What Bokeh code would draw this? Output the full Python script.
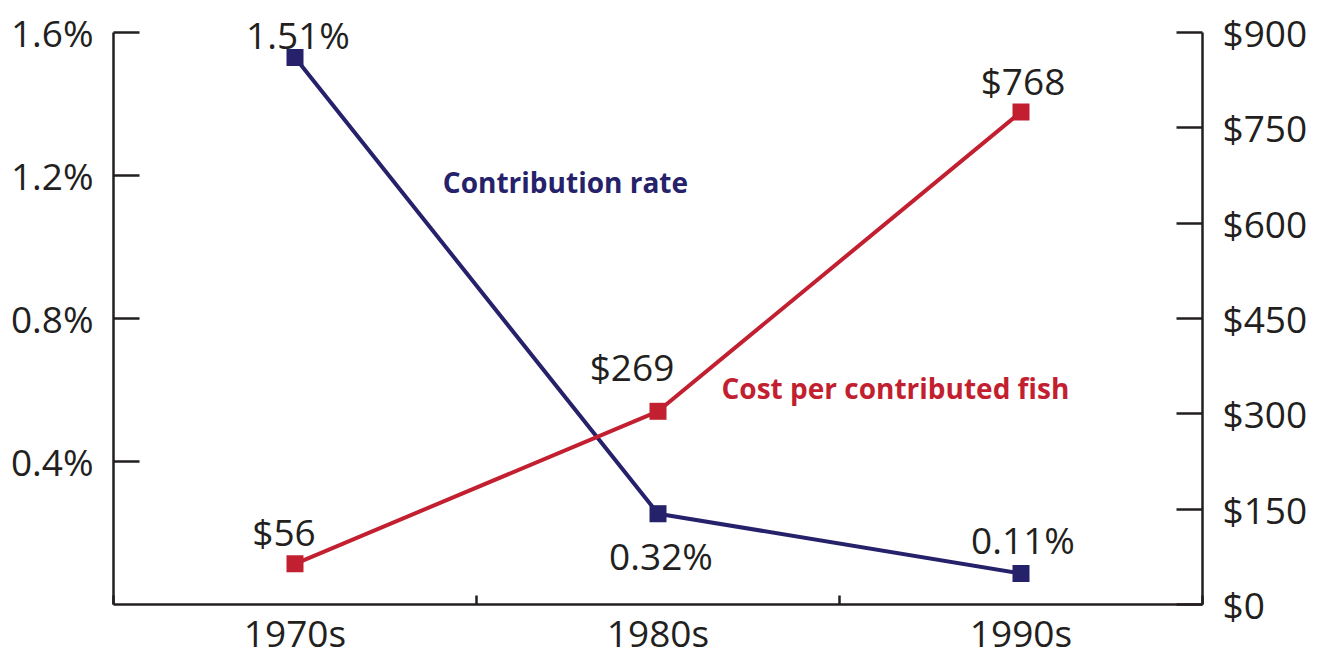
from bokeh.plotting import figure
from bokeh.models import (Range1d, LinearAxis, FixedTicker, PrintfTickFormatter,
                          ColumnDataSource, Label, LabelSet)
from bokeh.core.properties import value
from bokeh.embed import file_html
from bokeh.resources import INLINE

# ---- data ----
decades = ["1970s", "1980s", "1990s"]
rate_plotted = [1.53, 0.254, 0.087]          # contribution rate (%), as drawn
rate_labels = ["1.51%", "0.32%", "0.11%"]
cost_plotted = [64, 304, 775]                 # cost per contributed fish ($), as drawn
cost_labels = ["$56", "$269", "$768"]
rate_ticks = [0.4, 0.8, 1.2, 1.6]
cost_ticks = [0, 150, 300, 450, 600, 750, 900]

NAVY = "#25216A"
RED = "#C21F30"
INK = "#231F20"
FONT = "Open Sans"

xc = [i + 0.5 for i in range(len(decades))]
bounds = list(range(len(decades) + 1))

# frame spans a little above the top tick so the top value label is not clipped;
# the axis lines are bounded to the tick range
TOP, BOTTOM, AXIS_TOP = 2, 604, 32
head = (BOTTOM - TOP) / (BOTTOM - AXIS_TOP)
rate_max, cost_max = rate_ticks[-1], cost_ticks[-1]

p = figure(width=1320, height=660, output_backend="svg", toolbar_location=None,
           x_range=Range1d(0, len(decades)), y_range=Range1d(0, rate_max * head),
           min_border_left=113, min_border_right=118, min_border_top=TOP,
           min_border_bottom=660 - BOTTOM)
p.extra_y_ranges = {"cost": Range1d(0, cost_max * head)}
p.outline_line_color = None
p.xgrid.visible = False
p.ygrid.visible = False
p.xaxis.visible = False
p.yaxis.visible = False


def style_axis(ax):
    ax.axis_line_color = INK
    ax.axis_line_width = 2.5
    ax.major_tick_line_color = INK
    ax.major_tick_line_width = 2.5
    ax.minor_tick_line_color = INK
    ax.minor_tick_line_width = 2.5
    ax.major_label_text_font = FONT
    ax.major_label_text_font_size = "37px"
    ax.major_label_text_color = INK


# left axis
la = LinearAxis(ticker=FixedTicker(ticks=rate_ticks), bounds=(0, rate_max),
                formatter=PrintfTickFormatter(format="%.1f%%"))
style_axis(la)
la.major_tick_in = 26
la.major_tick_out = 0
la.minor_tick_in = 0
la.minor_tick_out = 0
la.major_label_standoff = 20
p.add_layout(la, "left")

# right axis
ra = LinearAxis(y_range_name="cost", ticker=FixedTicker(ticks=cost_ticks),
                bounds=(0, cost_max), formatter=PrintfTickFormatter(format="$%d"))
style_axis(ra)
ra.major_tick_in = 26
ra.major_tick_out = 0
ra.minor_tick_in = 0
ra.minor_tick_out = 0
ra.major_label_standoff = 20
p.add_layout(ra, "right")

# bottom axis
ba = LinearAxis(ticker=FixedTicker(ticks=xc, minor_ticks=bounds))
style_axis(ba)
ba.major_label_overrides = {x: d for x, d in zip(xc, decades)}
ba.major_tick_in = 0
ba.major_tick_out = 0
ba.minor_tick_in = 9
ba.minor_tick_out = 0
ba.major_label_standoff = 2
p.add_layout(ba, "below")

# series
p.line(xc, rate_plotted, line_color=NAVY, line_width=4)
p.scatter(xc, rate_plotted, marker="square", size=17, fill_color=NAVY, line_color=None)
p.line(xc, cost_plotted, line_color=RED, line_width=4, y_range_name="cost")
p.scatter(xc, cost_plotted, marker="square", size=17, fill_color=RED, line_color=None,
          y_range_name="cost")

# value labels
rate_src = ColumnDataSource(dict(x=xc, y=rate_plotted, t=rate_labels,
                                 dx=[3, 3, 2], dy=[23, -42, 34]))
p.add_layout(LabelSet(x="x", y="y", text="t", x_offset="dx", y_offset="dy",
                      source=rate_src, text_font=value(FONT),
                      text_font_size=value("37px"), text_color=value(INK),
                      text_align="center", text_baseline="middle"))
cost_src = ColumnDataSource(dict(x=xc, y=cost_plotted, t=cost_labels,
                                 dx=[-11, -26, 2], dy=[32, 45, 31]))
p.add_layout(LabelSet(x="x", y="y", text="t", x_offset="dx", y_offset="dy",
                      source=cost_src, y_range_name="cost", text_font=value(FONT),
                      text_font_size=value("37px"), text_color=value(INK),
                      text_align="center", text_baseline="middle"))

# series names
p.add_layout(Label(x=1.245, y=1.181, text="Contribution rate", text_font=FONT,
                   text_font_size="28px", text_font_style="bold", text_color=NAVY,
                   text_align="center", text_baseline="middle"))
p.add_layout(Label(x=2.154, y=0.606, text="Cost per contributed fish", text_font=FONT,
                   text_font_size="28px", text_font_style="bold", text_color=RED,
                   text_align="center", text_baseline="middle"))

open("out.html", "w").write(file_html(p, INLINE))
